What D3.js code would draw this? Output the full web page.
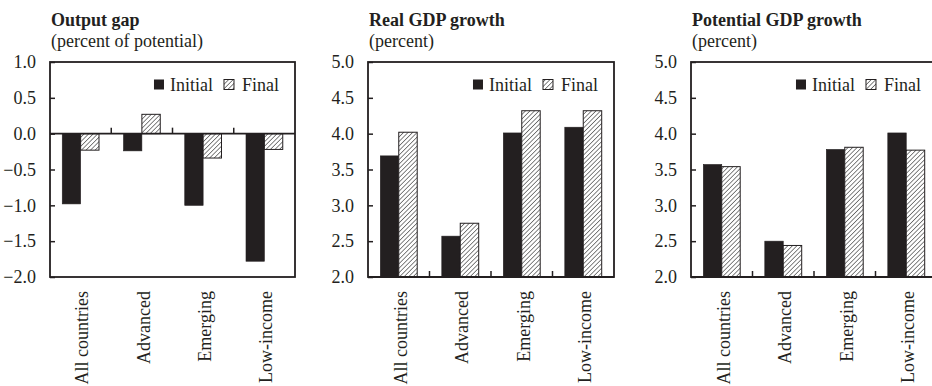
<!DOCTYPE html>
<html>
<head>
<meta charset="utf-8">
<script src="https://cdn.jsdelivr.net/npm/d3@7"></script>
<style>
  html, body { margin: 0; padding: 0; background: #fff; }
  svg { display: block; }
  text { font-family: "Liberation Serif", "Times New Roman", serif; fill: #231f20; }
</style>
</head>
<body>
<svg id="chart" width="932" height="386"></svg>
<script>
// Country groups shown on every panel
const categories = ["All countries", "Advanced", "Emerging", "Low-income"];
const seriesNames = ["Initial", "Final"];

// Output gap, percent of potential
const outputGapInitial = [-0.98, -0.24, -1.00, -1.78];
const outputGapFinal   = [-0.23, 0.27, -0.34, -0.22];

// Real GDP growth, percent
const realGrowthInitial = [3.69, 2.57, 4.01, 4.09];
const realGrowthFinal   = [4.02, 2.75, 4.32, 4.32];

// Potential GDP growth, percent
const potentialInitial = [3.57, 2.50, 3.78, 4.01];
const potentialFinal   = [3.54, 2.44, 3.81, 3.77];

// Tick values for each vertical axis
const gapTicks = [-2.0, -1.5, -1.0, -0.5, 0.0, 0.5, 1.0];
const growthTicks = [2.0, 2.5, 3.0, 3.5, 4.0, 4.5, 5.0];

const panels = [
  { title: "Output gap", subtitle: "(percent of potential)", initial: outputGapInitial, final: outputGapFinal,
    domain: [-2, 1], ticks: gapTicks, baseline: 0, left: 50, right: 295 },
  { title: "Real GDP growth", subtitle: "(percent)", initial: realGrowthInitial, final: realGrowthFinal,
    domain: [2, 5], ticks: growthTicks, baseline: 2, left: 368, right: 614 },
  { title: "Potential GDP growth", subtitle: "(percent)", initial: potentialInitial, final: potentialFinal,
    domain: [2, 5], ticks: growthTicks, baseline: 2, left: 691, right: 937 }
];

const plotTop = 62, plotBottom = 277;
const ink = "#231f20";
const svg = d3.select("#chart");
const fmt = d3.format(".1f");

// Diagonal hatch used for the "Final" series
const defs = svg.append("defs");
const pat = defs.append("pattern")
  .attr("id", "hatch")
  .attr("patternUnits", "userSpaceOnUse")
  .attr("width", 3.2).attr("height", 3.2)
  .attr("patternTransform", "rotate(45)");
pat.append("rect").attr("width", 3.2).attr("height", 3.2).attr("fill", "#fff");
pat.append("line").attr("x1", 0).attr("y1", 0).attr("x2", 0).attr("y2", 3.2)
  .attr("stroke", "#333").attr("stroke-width", 1.2);

const fills = { Initial: ink, Final: "url(#hatch)" };

panels.forEach(p => {
  const g = svg.append("g");
  const x0 = d3.scaleBand().domain(categories).range([p.left, p.right]).padding(0);
  const bw = x0.bandwidth();
  const x1 = d3.scaleBand().domain(seriesNames).range([bw * 0.2, bw * 0.8]).padding(0);
  const y = d3.scaleLinear().domain(p.domain).range([plotBottom, plotTop]);

  // Titles
  g.append("text").attr("x", p.left + 1).attr("y", 26)
    .attr("font-size", 18).attr("font-weight", "bold").text(p.title);
  g.append("text").attr("x", p.left + 1).attr("y", 46.5)
    .attr("font-size", 18).text(p.subtitle);

  // Bars
  const rows = categories.map((c, i) => ({ cat: c, Initial: p.initial[i], Final: p.final[i] }));
  const grp = g.selectAll(".grp").data(rows).join("g")
    .attr("transform", d => `translate(${x0(d.cat)},0)`);
  grp.selectAll("rect").data(d => seriesNames.map(s => ({ s, v: d[s] }))).join("rect")
    .attr("x", d => x1(d.s))
    .attr("width", x1.bandwidth())
    .attr("y", d => Math.min(y(d.v), y(p.baseline)))
    .attr("height", d => Math.abs(y(d.v) - y(p.baseline)))
    .attr("fill", d => fills[d.s])
    .attr("stroke", ink)
    .attr("stroke-width", d => d.s === "Final" ? 1 : 0.6);

  // Left axis with inward ticks
  const yAxis = d3.axisLeft(y).tickValues(p.ticks).tickFormat(fmt).tickSize(-5).tickPadding(14);
  const ya = g.append("g").attr("transform", `translate(${p.left},0)`).call(yAxis);
  ya.select(".domain").remove();
  ya.selectAll(".tick line").attr("stroke", ink).attr("stroke-width", 1.5);
  ya.selectAll(".tick text").attr("font-size", 18).attr("font-family", "Liberation Serif")
    .attr("fill", ink);

  // Frame
  g.append("rect").attr("x", p.left).attr("y", plotTop)
    .attr("width", p.right - p.left).attr("height", plotBottom - plotTop)
    .attr("fill", "none").attr("stroke", ink).attr("stroke-width", 1.8);

  // Category axis: separators rise from the baseline, labels run vertically below the frame
  const yb = y(p.baseline);
  g.append("line").attr("x1", p.left).attr("x2", p.right).attr("y1", yb).attr("y2", yb)
    .attr("stroke", ink).attr("stroke-width", 1.8);
  const seps = categories.slice(1).map(c => x0(c));
  g.selectAll(".sep").data(seps).join("line")
    .attr("x1", d => d).attr("x2", d => d)
    .attr("y1", yb).attr("y2", yb - 6)
    .attr("stroke", ink).attr("stroke-width", 1.5);

  g.selectAll(".cat").data(categories).join("text")
    .attr("transform", d => `translate(${x0(d) + bw / 2 + 1.5},${plotBottom + 14}) rotate(-90)`)
    .attr("text-anchor", "end").attr("dy", "0.35em")
    .attr("font-size", 18).text(d => d);

  // Legend, laid out from the right edge
  const lg = g.append("g");
  const ly = 90.5;
  const tFinal = lg.append("text").attr("font-size", 18).attr("y", ly).text("Final");
  const wF = tFinal.node().getComputedTextLength();
  const xF = p.right - 16 - wF;
  tFinal.attr("x", xF);
  lg.append("rect").attr("x", xF - 18).attr("y", 79.5).attr("width", 10).attr("height", 10)
    .attr("fill", fills.Final).attr("stroke", ink).attr("stroke-width", 1);
  const tInit = lg.append("text").attr("font-size", 18).attr("y", ly).text("Initial");
  const wI = tInit.node().getComputedTextLength();
  const xI = xF - 18 - 11 - wI;
  tInit.attr("x", xI);
  lg.append("rect").attr("x", xI - 16).attr("y", 79.5).attr("width", 10).attr("height", 10)
    .attr("fill", fills.Initial);
});
</script>
</body>
</html>
